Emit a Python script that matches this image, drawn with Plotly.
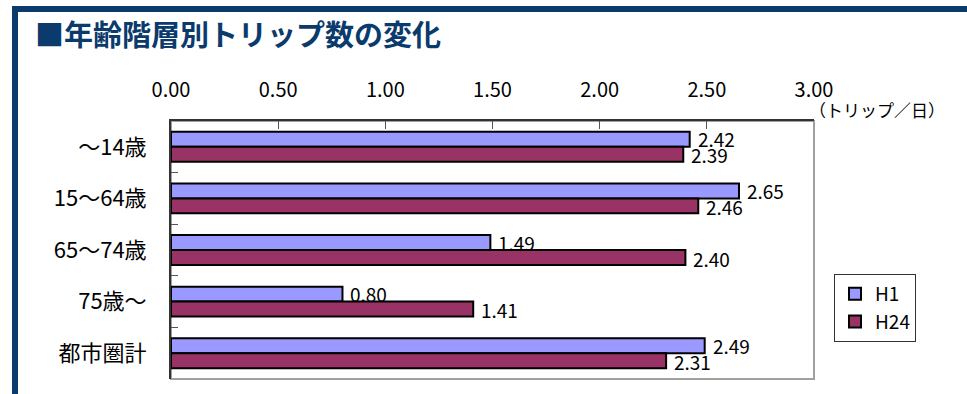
import plotly.graph_objects as go

# Trips per person per day by age group
categories = ["～14歳", "15～64歳", "65～74歳", "75歳～", "都市圏計"]
h1_values = [2.42, 2.65, 1.49, 0.80, 2.49]
h24_values = [2.39, 2.46, 2.40, 1.41, 2.31]
series_names = ["H1", "H24"]
x_tick_values = [0.0, 0.5, 1.0, 1.5, 2.0, 2.5, 3.0]
unit_label = "（トリップ／日）"
title_text = "■年齢階層別トリップ数の変化"

W, H = 967, 394
ML, MR, MT, MB = 171, 153, 121, 15
NAVY = "#0b3a6c"
JP = "Noto Sans CJK JP"


def px_x(x):
    return (x - ML) / (W - ML - MR)


def px_y(y):
    return (H - MB - y) / (H - MT - MB)


fig = go.Figure()
for name, vals, color in [
    (series_names[0], h1_values, "#9999FF"),
    (series_names[1], h24_values, "#993366"),
]:
    fig.add_trace(go.Bar(
        name=name, y=categories, x=vals, orientation="h",
        marker=dict(color=color, line=dict(color="black", width=2)),
        hoverinfo="skip",
    ))

# value labels to the right of each bar
annotations = []
for vals, shift in [(h1_values, 8), (h24_values, -8)]:
    for cat, v in zip(categories, vals):
        annotations.append(dict(
            x=v, y=cat, xref="x", yref="y", text=f"{v:.2f}",
            showarrow=False, xanchor="left", yanchor="middle",
            xshift=6, yshift=shift,
            font=dict(family=JP, size=19, color="black"),
        ))

annotations.append(dict(
    x=px_x(877), y=px_y(110), xref="paper", yref="paper", text=unit_label,
    showarrow=False, xanchor="center", yanchor="middle",
    font=dict(family=JP, size=17, color="black"),
))

shapes = [
    # plot frame (light right/bottom edges)
    dict(type="rect", xref="paper", yref="paper", x0=0, x1=1, y0=0, y1=1,
         line=dict(color="#a0a0a0", width=2), layer="below"),
    # page frame: top and left navy bands
    dict(type="rect", xref="paper", yref="paper",
         x0=px_x(12), x1=px_x(967), y0=px_y(12), y1=px_y(6),
         line=dict(width=0), fillcolor=NAVY, layer="above"),
    dict(type="rect", xref="paper", yref="paper",
         x0=px_x(12), x1=px_x(18), y0=px_y(394), y1=px_y(6),
         line=dict(width=0), fillcolor=NAVY, layer="above"),
]

fig.update_layout(
    width=W, height=H,
    margin=dict(l=ML, r=MR, t=MT, b=MB, pad=0),
    paper_bgcolor="white", plot_bgcolor="white",
    barmode="group", bargap=0.42, bargroupgap=0,
    showlegend=True,
    legend=dict(
        x=px_x(834), y=px_y(274), xanchor="left", yanchor="top",
        xref="paper", yref="paper",
        bordercolor="#333333", borderwidth=1, bgcolor="white",
        font=dict(family=JP, size=19, color="black"),
        traceorder="normal",
    ),
    title=dict(
        text=title_text, x=35 / W, y=1 - 36 / H, xanchor="left", yanchor="middle",
        xref="container", yref="container",
        font=dict(family=JP, size=29, color=NAVY, weight="bold"),
    ),
    xaxis=dict(
        side="top", range=[0, 3], tickvals=x_tick_values, tickformat=".2f",
        ticks="inside", ticklen=8, tickcolor="#555555", tickwidth=1,
        showline=True, linecolor="#333333", linewidth=2,
        showgrid=False, zeroline=False, ticklabelstandoff=14,
        tickfont=dict(family=JP, size=20, color="black"),
    ),
    yaxis=dict(
        type="category", categoryorder="array", categoryarray=categories,
        autorange="reversed",
        ticks="inside", tickson="boundaries", ticklen=7, tickcolor="#555555",
        showline=True, linecolor="#333333", linewidth=2,
        showgrid=False, zeroline=False, ticklabelstandoff=18,
        tickfont=dict(family=JP, size=22, color="black"),
    ),
    annotations=annotations,
    shapes=shapes,
)

fig.write_html("out.html")
